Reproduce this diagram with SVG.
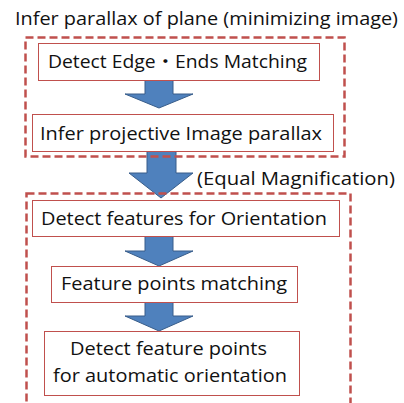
<svg xmlns="http://www.w3.org/2000/svg" width="404" height="403" viewBox="0 0 404 403">
<style>
text{font-family:"Open Sans","Noto Sans CJK JP",sans-serif;font-size:18px;fill:#111}
.box{fill:#fff;stroke:#C0504D;stroke-width:1}
.grp{fill:none;stroke:#C0504D;stroke-width:2.5;stroke-dasharray:8 4}
.arr{fill:#4F81BD;stroke:#385D8A;stroke-width:1}
</style>
<rect width="404" height="403" fill="#fff"/>
<text x="15" y="25" textLength="383" lengthAdjust="spacingAndGlyphs">Infer parallax of plane (minimizing image)</text>
<g id="connectors">
<path class="arr" d="M145,80 H173 V94 H193 L159,108 L125,94 H145 Z"/>
<path class="arr" d="M147,151 H176 V173 H193 L161,198 L129,173 H147 Z"/>
<path class="arr" d="M145,236 H173 V251 H193 L159,266 L125,251 H145 Z"/>
<path class="arr" d="M145,302 H173 V316 H193 L159,331 L125,316 H145 Z"/>
</g>
<g id="n1"><rect class="box" x="38.5" y="43.5" width="281" height="37"/>
<text x="48" y="68" textLength="259" lengthAdjust="spacingAndGlyphs">Detect Edge・Ends Matching</text></g>
<g id="n2"><rect class="box" x="32.5" y="114.5" width="301" height="37"/>
<text x="40" y="140" textLength="282" lengthAdjust="spacingAndGlyphs">Infer projective Image parallax</text></g>
<g id="n3"><rect class="box" x="32.5" y="200.5" width="307" height="36"/>
<text x="41" y="225" textLength="286" lengthAdjust="spacingAndGlyphs">Detect features for Orientation</text></g>
<g id="n4"><rect class="box" x="51.5" y="266.5" width="246" height="36"/>
<text x="61" y="290" textLength="226" lengthAdjust="spacingAndGlyphs">Feature points matching</text></g>
<g id="n5"><rect class="box" x="44.5" y="331.5" width="255" height="64"/>
<text x="70" y="355" textLength="197" lengthAdjust="spacingAndGlyphs">Detect feature points</text>
<text x="53" y="382" textLength="234" lengthAdjust="spacingAndGlyphs">for automatic orientation</text></g>
<g id="group1"><rect class="grp" x="25.5" y="37.5" width="319" height="119"/></g>
<g id="group2"><rect class="grp" x="26.5" y="193.5" width="324" height="230"/></g>
<text x="197" y="185" textLength="198" lengthAdjust="spacingAndGlyphs">(Equal Magnification)</text>
</svg>
